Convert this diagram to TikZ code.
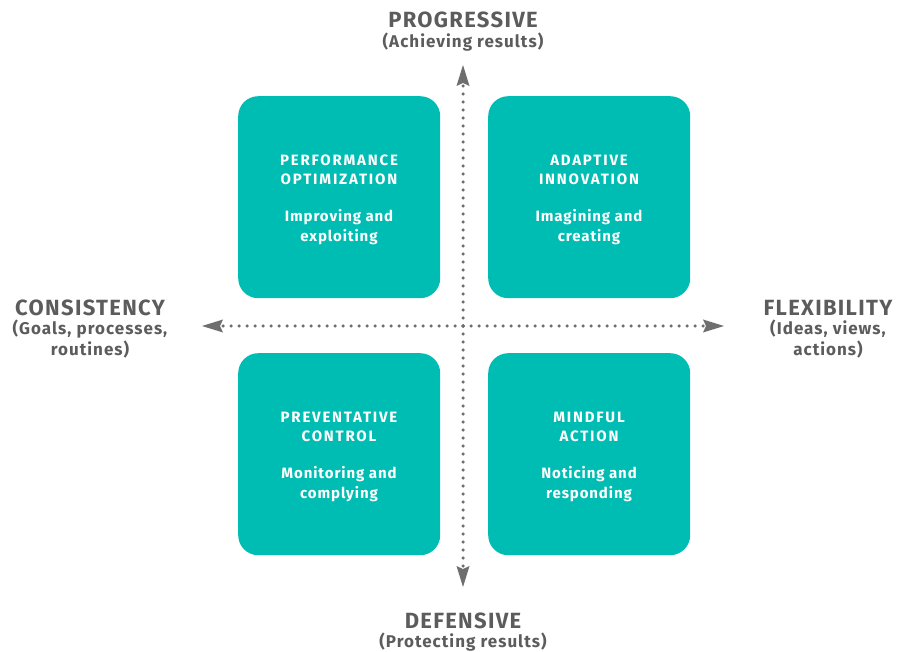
\documentclass[tikz,border=0pt]{standalone}
\usepackage{fontspec}
\setmainfont{Fira Sans}[LetterSpace=6]
\usetikzlibrary{arrows.meta}
\definecolor{teal}{HTML}{00BDB4}
\definecolor{axisgray}{HTML}{6E6E6E}
\definecolor{txtgray}{HTML}{5C5C5C}
\tikzset{
  quad/.style={fill=teal, rounded corners=20pt, minimum width=202pt, minimum height=202pt, inner sep=0pt, anchor=north west},
  qtitle/.style={text=white, font=\fontsize{15pt}{19pt}\selectfont\bfseries\addfontfeatures{LetterSpace=12}, align=center},
  qtext/.style={text=white, font=\fontsize{15pt}{19.5pt}\selectfont\bfseries, align=center},
  bigtitle/.style={text=txtgray, align=center, font=\fontsize{22pt}{24pt}\selectfont\bfseries},
  subtitle/.style={text=txtgray, align=center, font=\fontsize{17pt}{21pt}\selectfont\bfseries},
  axis/.style={axisgray, line width=3.5pt, line cap=round, dash pattern=on 0pt off 8pt, -{Stealth[length=21pt,width=13pt,inset=3pt,line width=0pt]}},
}
\begin{document}
\begin{tikzpicture}[x=1pt,y=-1pt]
\useasboundingbox (0,0) rectangle (897,652);
\node[quad] (tl) at (238,96) {};
\node[quad] (tr) at (488,96) {};
\node[quad] (bl) at (238,353) {};
\node[quad] (br) at (488,353) {};
\coordinate (c) at (463,326);
\coordinate (top) at (463,65);
\coordinate (bot) at (463,587);
\coordinate (lft) at (202,326);
\coordinate (rgt) at (724,326);
\draw[axis] (c) -- (top);
\draw[axis] (c) -- (bot);
\draw[axis] (c) -- (lft);
\draw[axis] (c) -- (rgt);
\node[qtitle] (tlt) at (339,170) {PERFORMANCE\\OPTIMIZATION};
\node[qtext] (tls) at (339,227) {Improving and\\exploiting};
\node[qtitle] (trt) at (589,170) {ADAPTIVE\\INNOVATION};
\node[qtext] (trs) at (589,227) {Imagining and\\creating};
\node[qtitle] (blt) at (339,427) {PREVENTATIVE\\CONTROL};
\node[qtext] (bls) at (339,484) {Monitoring and\\complying};
\node[qtitle] (brt) at (589,427) {MINDFUL\\ACTION};
\node[qtext] (brs) at (589,484) {Noticing and\\responding};
\node[bigtitle] (pt) at (463,20) {PROGRESSIVE};
\node[subtitle] (ps) at (463,42) {(Achieving results)};
\node[bigtitle] (dt) at (463,621) {DEFENSIVE};
\node[subtitle] (ds) at (463,642) {(Protecting results)};
\node[bigtitle] (ct) at (90,308) {CONSISTENCY};
\node[subtitle] (cs) at (90,339) {(Goals, processes,\\routines)};
\node[bigtitle] (ft) at (828,308) {FLEXIBILITY};
\node[subtitle] (fs) at (828,339) {(Ideas, views,\\actions)};
\end{tikzpicture}
\end{document}
